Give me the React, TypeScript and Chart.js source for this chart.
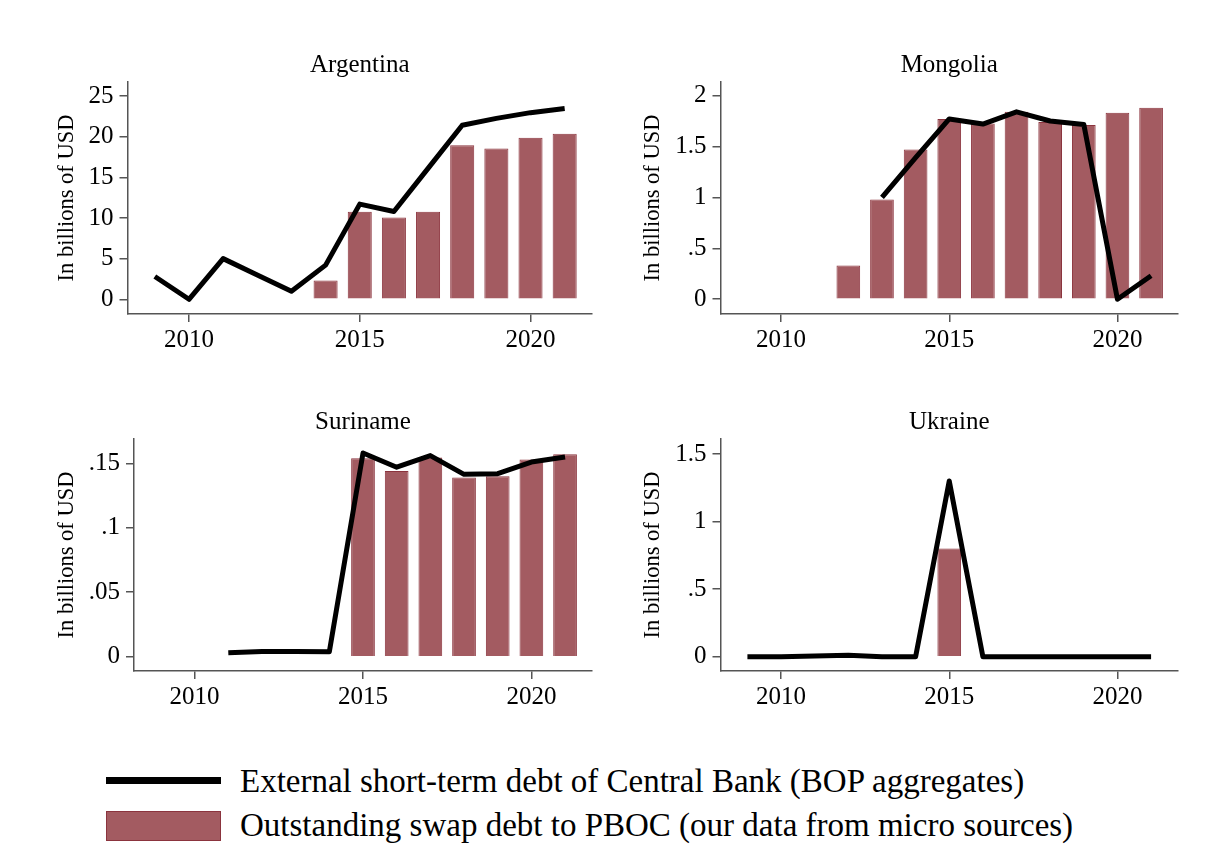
import React, { useEffect, useRef } from 'react';
import { Chart, registerables } from 'chart.js';

Chart.register(...registerables);

// ---------- DATA ----------
const years = [2009, 2010, 2011, 2012, 2013, 2014, 2015, 2016, 2017, 2018, 2019, 2020, 2021];
const xTickValues = [2010, 2015, 2020];

const argentinaLine = [2.8, 0, 5.0, 3.0, 1.0, 4.2, 11.7, 10.8, 16.1, 21.4, 22.25, 22.95, 23.45];
const argentinaBars = [null, null, null, null, null, 2.3, 10.75, 10.05, 10.75, 18.95, 18.55, 19.85, 20.35];
const argentinaYTicks = [0, 5, 10, 15, 20, 25];
const argentinaYLabels = ['0', '5', '10', '15', '20', '25'];

const mongoliaLine = [null, null, null, null, 1.0, 1.39, 1.77, 1.72, 1.84, 1.75, 1.715, 0, 0.23];
const mongoliaBars = [null, null, null, 0.33, 0.98, 1.47, 1.77, 1.725, 1.84, 1.74, 1.71, 1.83, 1.88];
const mongoliaYTicks = [0, 0.5, 1, 1.5, 2];
const mongoliaYLabels = ['0', '.5', '1', '1.5', '2'];

const surinameLine = [null, null, 0.003, 0.004, 0.004, 0.0038, 0.158, 0.147, 0.156, 0.1415, 0.142, 0.151, 0.155];
const surinameBars = [null, null, null, null, null, null, 0.154, 0.144, 0.1545, 0.139, 0.14, 0.153, 0.157];
const surinameYTicks = [0, 0.05, 0.1, 0.15];
const surinameYLabels = ['0', '.05', '.1', '.15'];

const ukraineLine = [0, 0, 0.005, 0.01, 0, 0, 1.3, 0, 0, 0, 0, 0, 0];
const ukraineBars = [null, null, null, null, null, null, 0.8, null, null, null, null, null, null];
const ukraineYTicks = [0, 0.5, 1, 1.5];
const ukraineYLabels = ['0', '.5', '1', '1.5'];

const yAxisTitle = 'In billions of USD';
const legendLineLabel = 'External short-term debt of Central Bank (BOP aggregates)';
const legendBarLabel = 'Outstanding swap debt to PBOC (our data from micro sources)';

// ---------- STYLE ----------
const FONT = "'Liberation Serif', 'Times New Roman', serif";
const BAR_FILL = 'rgb(163, 91, 97)';
const BAR_EDGE = 'rgb(139, 52, 62)';
const AXIS = '#555555';

type Panel = {
  name: string;
  line: (number | null)[];
  bars: (number | null)[];
  yTicks: number[];
  yLabels: string[];
  yMin: number;
  yMax: number;
  canvasLeft: number;
  canvasTop: number;
  caLeft: number;
  caRight: number;
  caTop: number;
  caBottom: number;
  yTitleX: number;
};

const panels: Panel[] = [
  {
    name: 'Argentina', line: argentinaLine, bars: argentinaBars, yTicks: argentinaYTicks, yLabels: argentinaYLabels,
    yMin: -1.81, yMax: 26.72,
    canvasLeft: 30, canvasTop: 40, caLeft: 127.5, caRight: 592, caTop: 82, caBottom: 314, yTitleX: 67.5,
  },
  {
    name: 'Mongolia', line: mongoliaLine, bars: mongoliaBars, yTicks: mongoliaYTicks, yLabels: mongoliaYLabels,
    yMin: -0.145, yMax: 2.133,
    canvasLeft: 620, canvasTop: 40, caLeft: 720.5, caRight: 1178, caTop: 82, caBottom: 314, yTitleX: 653,
  },
  {
    name: 'Suriname', line: surinameLine, bars: surinameBars, yTicks: surinameYTicks, yLabels: surinameYLabels,
    yMin: -0.0111, yMax: 0.1689,
    canvasLeft: 30, canvasTop: 397, caLeft: 134, caRight: 592, caTop: 439, caBottom: 671, yTitleX: 67,
  },
  {
    name: 'Ukraine', line: ukraineLine, bars: ukraineBars, yTicks: ukraineYTicks, yLabels: ukraineYLabels,
    yMin: -0.106, yMax: 1.611,
    canvasLeft: 620, canvasTop: 397, caLeft: 720.5, caRight: 1178, caTop: 439, caBottom: 671, yTitleX: 653,
  },
];

const CANVAS_W = 590;
const X_AXIS_H = 45;
const TITLE_SIZE = 25;
const TICK_SIZE = 25;
const YTITLE_SIZE = 22.5;

function PanelChart({ p }: { p: Panel }) {
  const ref = useRef<HTMLCanvasElement | null>(null);
  const height = p.caBottom + X_AXIS_H - p.canvasTop;
  useEffect(() => {
    if (!ref.current) return;
    const titleBox = p.caTop - p.canvasTop;
    const titleLH = TITLE_SIZE * 1.2;
    const titlePadTop = (titleBox - titleLH) * 0.83;
    const titlePadBottom = titleBox - titleLH - titlePadTop;
    const yTitleLH = YTITLE_SIZE * 1.2;
    const chart = new Chart(ref.current, {
      type: 'bar',
      data: {
        datasets: [
          {
            type: 'line',
            label: legendLineLabel,
            data: years.map((y, i) => ({ x: y, y: p.line[i] })),
            borderColor: '#000000',
            backgroundColor: '#000000',
            borderWidth: 5,
            pointRadius: 0,
            spanGaps: false,
            tension: 0,
            borderJoinStyle: 'round',
            borderCapStyle: 'butt',
            order: 0,
          } as any,
          {
            type: 'bar',
            label: legendBarLabel,
            data: years.map((y, i) => ({ x: y, y: p.bars[i] })),
            backgroundColor: BAR_FILL,
            borderColor: BAR_EDGE,
            borderWidth: 1,
            barPercentage: 0.88,
            categoryPercentage: 0.8,
            order: 1,
          } as any,
        ],
      },
      options: {
        animation: false,
        responsive: false,
        maintainAspectRatio: false,
        layout: { padding: { left: 0, right: p.canvasLeft + CANVAS_W - p.caRight, top: 0, bottom: 0 } },
        plugins: {
          legend: { display: false },
          tooltip: { enabled: false },
          title: {
            display: true,
            text: p.name,
            fullSize: false,
            color: '#000000',
            font: { family: FONT, size: TITLE_SIZE, weight: 'normal' },
            padding: { top: titlePadTop, bottom: titlePadBottom },
          },
        },
        scales: {
          x: {
            type: 'linear',
            min: 2008.2,
            max: 2021.8,
            offset: false,
            afterBuildTicks: (s: any) => { s.ticks = xTickValues.map((v) => ({ value: v })); },
            afterFit: (s: any) => { s.height = X_AXIS_H; },
            grid: { display: true, drawOnChartArea: false, drawTicks: true, tickLength: 8, color: AXIS, lineWidth: 1.5, offset: false },
            border: { display: true, color: AXIS, width: 1.5 },
            ticks: {
              color: '#000000',
              font: { family: FONT, size: TICK_SIZE },
              padding: 3,
              maxRotation: 0,
              autoSkip: false,
              callback: (v: any) => String(v),
            },
          },
          y: {
            type: 'linear',
            min: p.yMin,
            max: p.yMax,
            afterBuildTicks: (s: any) => { s.ticks = p.yTicks.map((v) => ({ value: v })); },
            afterFit: (s: any) => { s.width = p.caLeft - p.canvasLeft; },
            grid: { display: true, drawOnChartArea: false, drawTicks: true, tickLength: 8, color: AXIS, lineWidth: 1.5 },
            border: { display: true, color: AXIS, width: 1.5 },
            ticks: {
              color: '#000000',
              font: { family: FONT, size: TICK_SIZE },
              padding: 6,
              autoSkip: false,
              callback: (_v: any, i: number) => p.yLabels[i],
            },
            title: {
              display: true,
              text: yAxisTitle,
              color: '#000000',
              font: { family: FONT, size: YTITLE_SIZE },
              padding: { top: p.yTitleX - p.canvasLeft - yTitleLH / 2, bottom: 0 },
            },
          },
        },
      } as any,
    });
    return () => chart.destroy();
  }, [p]);
  return (
    <canvas
      ref={ref}
      width={CANVAS_W}
      height={height}
      style={{ position: 'absolute', left: p.canvasLeft, top: p.canvasTop, width: CANVAS_W, height }}
    />
  );
}

export default function App() {
  const legendFont = 33;
  return (
    <div style={{ position: 'absolute', left: 0, top: 0, width: 1218, height: 849, background: '#ffffff', overflow: 'hidden' }}>
      {panels.map((p) => (
        <PanelChart key={p.name} p={p} />
      ))}
      <div style={{ position: 'absolute', left: 106, top: 777, width: 115, height: 7, background: '#000000' }} />
      <div
        style={{
          position: 'absolute', left: 106, top: 811, width: 115, height: 30,
          background: BAR_FILL, border: `1.5px solid ${BAR_EDGE}`, boxSizing: 'border-box',
        }}
      />
      <div style={{ position: 'absolute', left: 240, top: 765, fontFamily: FONT, fontSize: legendFont, lineHeight: '33px', color: '#000', whiteSpace: 'nowrap' }}>
        {legendLineLabel}
      </div>
      <div style={{ position: 'absolute', left: 240, top: 809, fontFamily: FONT, fontSize: legendFont, lineHeight: '33px', color: '#000', whiteSpace: 'nowrap' }}>
        {legendBarLabel}
      </div>
    </div>
  );
}
